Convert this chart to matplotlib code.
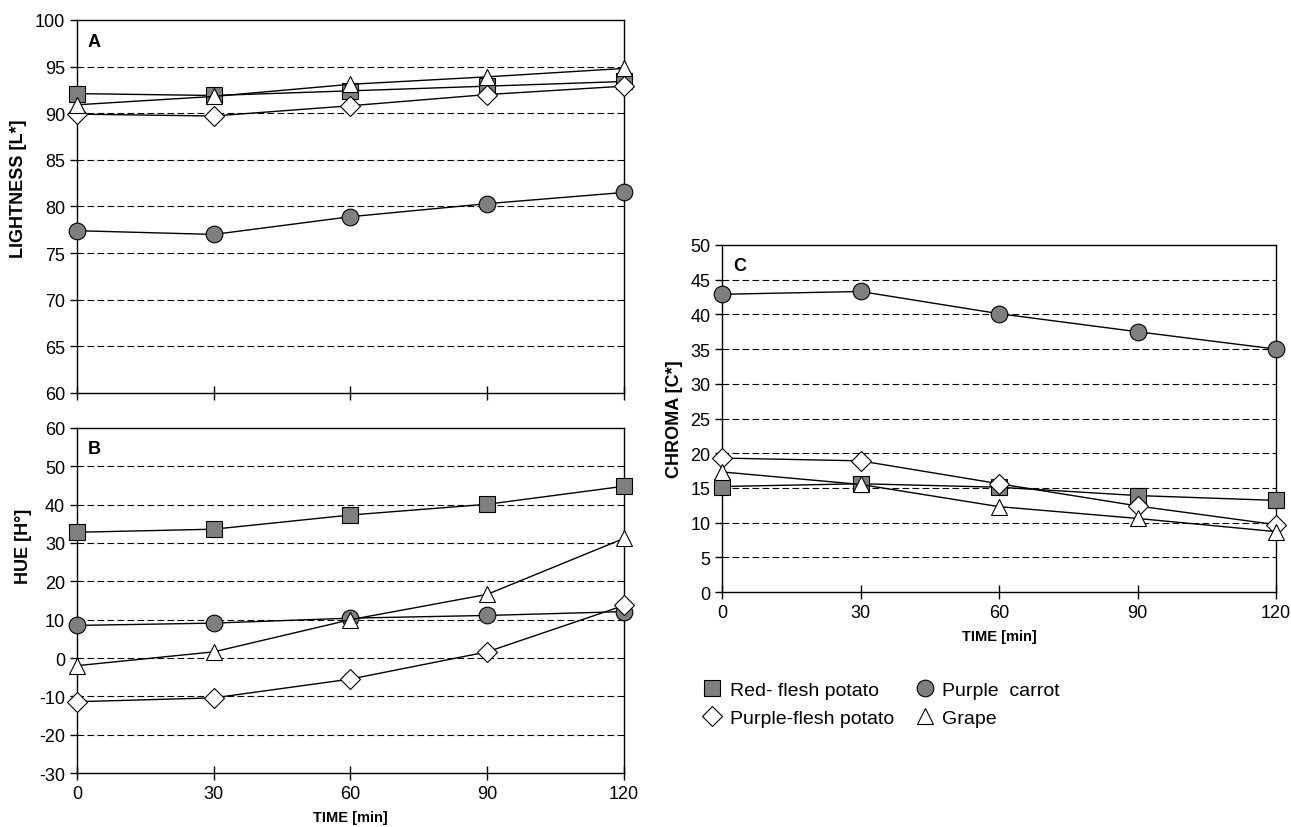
import numpy as np
import matplotlib
matplotlib.use("Agg")
import matplotlib.pyplot as plt
from matplotlib.lines import Line2D

plt.rcParams['font.family'] = ['Liberation Sans', 'DejaVu Sans']
plt.rcParams['axes.unicode_minus'] = False

time = [0, 30, 60, 90, 120]
series = ["Red- flesh potato", "Purple carrot", "Purple-flesh potato", "Grape"]

# lightness L*
light_red = [92.1, 91.9, 92.4, 92.9, 93.4]
light_carrot = [77.4, 77.0, 78.9, 80.3, 81.5]
light_purple = [89.9, 89.7, 90.8, 92.0, 92.9]
light_grape = [90.9, 91.8, 93.1, 93.9, 94.8]

# hue H
hue_red = [32.8, 33.6, 37.3, 40.1, 44.8]
hue_carrot = [8.5, 9.1, 10.4, 11.1, 12.1]
hue_purple = [-11.4, -10.4, -5.5, 1.6, 13.7]
hue_grape = [-2.0, 1.6, 10.0, 16.6, 31.2]

# chroma C*
chroma_red = [15.2, 15.6, 15.1, 13.9, 13.2]
chroma_carrot = [42.9, 43.3, 40.1, 37.5, 35.0]
chroma_purple = [19.3, 18.9, 15.6, 12.4, 9.7]
chroma_grape = [17.3, 15.5, 12.3, 10.6, 8.7]

styles = {
    "Red- flesh potato": dict(marker='s', mfc='#7f7f7f'),
    "Purple carrot": dict(marker='o', mfc='#7f7f7f'),
    "Purple-flesh potato": dict(marker='D', mfc='white', ms=10),
    "Grape": dict(marker='^', mfc='white'),
}


def draw(ax, vals, ylim, step, ylabel, letter, labelpos, xlabels=True):
    for name, v in zip(series, vals):
        st = dict(ms=12, mec='black', mew=0.8)
        st.update(styles[name])
        ax.plot(time, v, color='black', lw=1.0, zorder=3, clip_on=False, **st)
    ax.set_xlim(0, 120)
    ax.set_ylim(*ylim)
    ax.set_yticks(np.arange(ylim[0], ylim[1] + 1, step))
    ax.set_xticks(time)
    for y in np.arange(ylim[0] + step, ylim[1], step):
        ax.axhline(y, color='black', lw=0.8, ls=(0, (6, 3)), zorder=1)
    ax.tick_params(axis='y', direction='out', length=5, labelsize=13, width=1)
    ax.tick_params(axis='x', direction='inout', length=10, labelsize=13, width=1)
    if not xlabels:
        ax.set_xticklabels([])
    else:
        ax.set_xlabel("TIME [min]", fontsize=10.5, fontweight='bold', labelpad=6)
    ax.set_ylabel(ylabel, fontsize=13, fontweight='bold')
    ax.yaxis.set_label_coords(*labelpos)
    ax.text(0.02, 0.965, letter, transform=ax.transAxes, fontsize=13,
            fontweight='bold', va='top', ha='left')
    for s in ax.spines.values():
        s.set_linewidth(1.0)


fig = plt.figure(figsize=(12.91, 8.28), dpi=100)
axA = fig.add_axes([0.0596, 0.5242, 0.4237, 0.4505])
axB = fig.add_axes([0.0596, 0.0652, 0.4237, 0.4167])
axC = fig.add_axes([0.5593, 0.2838, 0.4291, 0.4191])

draw(axA, [light_red, light_carrot, light_purple, light_grape], (60, 100), 5,
     "LIGHTNESS [L*]", "A", (-0.092, 0.55), xlabels=False)
draw(axB, [hue_red, hue_carrot, hue_purple, hue_grape], (-30, 60), 10,
     "HUE [H°]", "B", (-0.083, 0.66))
draw(axC, [chroma_red, chroma_carrot, chroma_purple, chroma_grape], (0, 50), 5,
     "CHROMA [C*]", "C", (-0.071, 0.5))
axC.xaxis.labelpad = 6

handles = []
for name in ["Red- flesh potato", "Purple-flesh potato", "Purple carrot", "Grape"]:
    st = dict(ms=12, mec='black', mew=0.8)
    st.update(styles[name])
    handles.append(Line2D([], [], ls='none', **st))
labels = ["Red- flesh potato", "Purple-flesh potato", "Purple  carrot", "Grape"]
fig.legend(handles, labels, ncol=2, frameon=False, fontsize=14,
           loc='upper left', bbox_to_anchor=(0.529, 0.197),
           handletextpad=0.3, columnspacing=1.0, labelspacing=0.55,
           handlelength=1.2)

fig.savefig("out.png", dpi=100)
